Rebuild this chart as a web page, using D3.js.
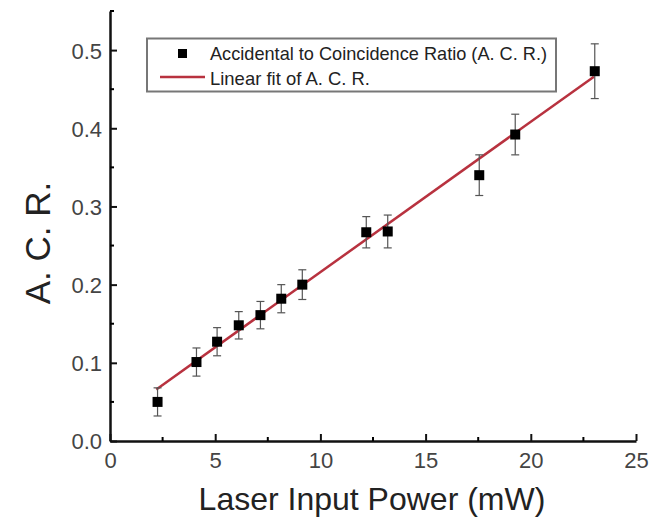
<!DOCTYPE html>
<html>
<head>
<meta charset="utf-8">
<script src="https://cdn.jsdelivr.net/npm/d3@7"></script>
<style>
  body { margin: 0; background: #fff; }
  text { font-family: "Liberation Sans", Arial, sans-serif; }
</style>
</head>
<body>
<div id="chart"></div>
<script>
// measured points (laser power in mW, A.C.R.)
const power = [2.26, 4.11, 5.09, 6.12, 7.15, 8.14, 9.14, 12.18, 13.2, 17.55, 19.26, 23.04];
const acr = [0.050, 0.101, 0.127, 0.148, 0.161, 0.182, 0.200, 0.267, 0.268, 0.340, 0.392, 0.473];
const acrErr = [0.018, 0.018, 0.018, 0.0175, 0.0175, 0.018, 0.019, 0.020, 0.021, 0.026, 0.026, 0.035];

// end points of the linear fit
const fitX = [2.2, 23.0];
const fitY = [0.066, 0.466];

const xTicks = [0, 5, 10, 15, 20, 25];
const yTicks = [0.0, 0.1, 0.2, 0.3, 0.4, 0.5];
const xMinor = [2.5, 7.5, 12.5, 17.5, 22.5];
const yMinor = [0.05, 0.15, 0.25, 0.35, 0.45, 0.55];

const legendLabels = ["Accidental to Coincidence Ratio (A. C. R.)", "Linear fit of A. C. R."];

const W = 653, H = 522;
const margin = { top: 11, right: 17, bottom: 81, left: 110 };

const x = d3.scaleLinear().domain([0, 25]).range([margin.left, W - margin.right]);
const y = d3.scaleLinear().domain([0, 0.55]).range([H - margin.bottom, margin.top]);

const svg = d3.select("#chart").append("svg")
    .attr("width", W)
    .attr("height", H);

// fit line
svg.append("line")
    .attr("x1", x(fitX[0])).attr("y1", y(fitY[0]))
    .attr("x2", x(fitX[1])).attr("y2", y(fitY[1]))
    .attr("stroke", "#b8323f")
    .attr("stroke-width", 2.5);

// error bars
const pts = power.map((p, i) => ({ x: p, y: acr[i], e: acrErr[i] }));
const eb = svg.append("g").attr("stroke", "#555").attr("stroke-width", 1.2);
pts.forEach(d => {
    eb.append("line")
        .attr("x1", x(d.x)).attr("x2", x(d.x))
        .attr("y1", y(d.y - d.e)).attr("y2", y(d.y + d.e));
    [d.y - d.e, d.y + d.e].forEach(v => {
        eb.append("line")
            .attr("x1", x(d.x) - 4).attr("x2", x(d.x) + 4)
            .attr("y1", y(v)).attr("y2", y(v));
    });
});

// markers
svg.selectAll(".pt")
    .data(pts)
    .enter()
    .append("rect")
    .attr("x", d => x(d.x) - 5)
    .attr("y", d => y(d.y) - 5)
    .attr("width", 10)
    .attr("height", 10)
    .attr("fill", "#000");

// axes (ticks point inward)
const xAxis = svg.append("g")
    .attr("transform", "translate(0," + y(0) + ")")
    .call(d3.axisBottom(x).tickValues(xTicks).tickSizeInner(-7).tickSizeOuter(0).tickFormat(d3.format("d")));
xAxis.append("g").selectAll("line")
    .data(xMinor).enter().append("line")
    .attr("x1", d => x(d)).attr("x2", d => x(d))
    .attr("y1", 0).attr("y2", -4)
    .attr("stroke", "#000").attr("stroke-width", 2);

const yAxis = svg.append("g")
    .attr("transform", "translate(" + x(0) + ",0)")
    .call(d3.axisLeft(y).tickValues(yTicks).tickSizeInner(-7).tickSizeOuter(0).tickFormat(d3.format(".1f")));
yAxis.append("g").selectAll("line")
    .data(yMinor).enter().append("line")
    .attr("x1", 0).attr("x2", 4)
    .attr("y1", d => y(d)).attr("y2", d => y(d))
    .attr("stroke", "#000").attr("stroke-width", 2);

[xAxis, yAxis].forEach(a => {
    a.select(".domain").attr("stroke", "#111").attr("stroke-width", 2.5);
    a.selectAll(".tick line").attr("stroke", "#111").attr("stroke-width", 2);
    a.selectAll(".tick text")
        .attr("fill", "#444")
        .style("font-size", "22px");
});
xAxis.selectAll(".tick text").attr("y", 11);
yAxis.selectAll(".tick text").attr("x", -8).attr("dy", "0.36em");

// axis titles
svg.append("text")
    .attr("x", 372)
    .attr("y", 510)
    .attr("text-anchor", "middle")
    .attr("fill", "#222")
    .style("font-size", "32px")
    .text("Laser Input Power (mW)");

svg.append("text")
    .attr("transform", "translate(50,243) rotate(-90)")
    .attr("text-anchor", "middle")
    .attr("fill", "#222")
    .style("font-size", "35px")
    .text("A. C. R.");

// legend
const lg = svg.append("g");
lg.append("rect")
    .attr("x", 147).attr("y", 38.5)
    .attr("width", 409).attr("height", 53)
    .attr("fill", "#fff")
    .attr("stroke", "#777")
    .attr("stroke-width", 2);
lg.append("rect")
    .attr("x", 178).attr("y", 49)
    .attr("width", 9).attr("height", 9)
    .attr("fill", "#000");
lg.append("line")
    .attr("x1", 160).attr("x2", 205)
    .attr("y1", 77).attr("y2", 77)
    .attr("stroke", "#b8323f").attr("stroke-width", 2.5);
lg.selectAll(".lt")
    .data(legendLabels)
    .enter()
    .append("text")
    .attr("x", 210)
    .attr("y", (d, i) => 60 + i * 25)
    .attr("fill", "#222")
    .attr("textLength", (d, i) => i === 0 ? 337 : 160)
    .attr("lengthAdjust", "spacingAndGlyphs")
    .style("font-size", "19px")
    .text(d => d);
</script>
</body>
</html>
